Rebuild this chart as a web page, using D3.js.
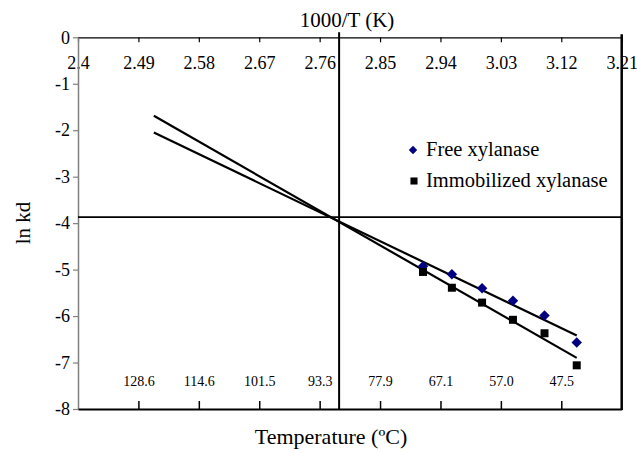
<!DOCTYPE html>
<html>
<head>
<meta charset="utf-8">
<script src="https://cdn.jsdelivr.net/npm/d3@7/dist/d3.min.js"></script>
<style>
  body { margin: 0; background: #fff; }
  svg { display: block; font-family: "Liberation Serif", "Times New Roman", serif; }
</style>
</head>
<body>
<div id="chart"></div>
<script>
// 1000/T values of the measured temperatures
var invT = [2.914, 2.957, 3.002, 3.048, 3.095, 3.143];
var freeLnKd = [-4.93, -5.10, -5.40, -5.67, -5.99, -6.57];
var immobLnKd = [-5.05, -5.39, -5.71, -6.08, -6.37, -7.06];

var freeFit = [[2.513, -2.05], [3.143, -6.42]];
var immobFit = [[2.513, -1.69], [3.143, -6.90]];

var topTicks = [2.4, 2.49, 2.58, 2.67, 2.76, 2.85, 2.94, 3.03, 3.12, 3.21];
var yTicks = [0, -1, -2, -3, -4, -5, -6, -7, -8];
var bottomTicks = [2.49, 2.58, 2.67, 2.76, 2.85, 2.94, 3.03, 3.12];
var bottomLabels = ["128.6", "114.6", "101.5", "93.3", "77.9", "67.1", "57.0", "47.5"];

// crossing point guide lines
var crossX = 2.789;
var crossY = -3.87;

var width = 637, height = 453;

var svg = d3.select("#chart").append("svg")
    .attr("width", width)
    .attr("height", height);

var x = d3.scaleLinear().domain([2.4, 3.21]).range([78, 621.7]);
var y = d3.scaleLinear().domain([0, -8]).range([37.3, 409]);

// top axis (1000/T)
var topAxis = svg.append("g")
    .attr("transform", "translate(0," + y(0) + ")")
    .call(d3.axisBottom(x).tickValues(topTicks).tickSize(5).tickSizeOuter(0)
        .tickPadding(14).tickFormat(function(d) { return String(d); }));
topAxis.selectAll("text").attr("font-size", 18).attr("fill", "#000")
    .attr("font-family", "Liberation Serif");
topAxis.select(".domain").attr("stroke", "#000").attr("stroke-width", 1.2);
topAxis.selectAll(".tick line").attr("stroke", "#000").attr("stroke-width", 1.2);

// left axis (ln kd)
var leftAxis = svg.append("g")
    .attr("transform", "translate(" + x(2.4) + ",0)")
    .call(d3.axisLeft(y).tickValues(yTicks).tickSize(5).tickSizeOuter(0).tickPadding(3)
        .tickFormat(function(d) { return String(d); }));
leftAxis.selectAll("text").attr("font-size", 18).attr("fill", "#000")
    .attr("font-family", "Liberation Serif");
leftAxis.select(".domain").attr("stroke", "#808080").attr("stroke-width", 1.5);
leftAxis.selectAll(".tick line").attr("stroke", "#808080").attr("stroke-width", 1.2);

// bottom line with temperature labels
var bottomAxis = svg.append("g")
    .attr("transform", "translate(0," + y(-8) + ")")
    .call(d3.axisTop(x).tickValues(bottomTicks).tickSize(8).tickSizeOuter(0)
        .tickPadding(15).tickFormat(function(d, i) { return bottomLabels[i]; }));
bottomAxis.selectAll("text").attr("font-size", 14).attr("fill", "#000")
    .attr("font-family", "Liberation Serif");
bottomAxis.select(".domain").attr("stroke", "#000").attr("stroke-width", 2.2);
bottomAxis.selectAll(".tick line").attr("stroke", "#000").attr("stroke-width", 1.5);

// right border
svg.append("line")
    .attr("x1", x(3.21)).attr("x2", x(3.21))
    .attr("y1", y(0) - 3).attr("y2", y(-8) + 1)
    .attr("stroke", "#000").attr("stroke-width", 2.5);

// guide lines through crossing point
svg.append("line")
    .attr("x1", x(crossX)).attr("x2", x(crossX))
    .attr("y1", y(0) - 5).attr("y2", y(-8))
    .attr("stroke", "#000").attr("stroke-width", 2);
svg.append("line")
    .attr("x1", x(2.4)).attr("x2", x(3.21))
    .attr("y1", y(crossY)).attr("y2", y(crossY))
    .attr("stroke", "#000").attr("stroke-width", 1.6);

// fitted lines
var line = d3.line()
    .x(function(d) { return x(d[0]); })
    .y(function(d) { return y(d[1]); });

[freeFit, immobFit].forEach(function(fit) {
    svg.append("path")
        .datum(fit)
        .attr("d", line)
        .attr("fill", "none")
        .attr("stroke", "#000")
        .attr("stroke-width", 2.2);
});

// points
var diamond = d3.symbol().type(d3.symbolDiamond2).size(70);
var square = d3.symbol().type(d3.symbolSquare).size(64);

svg.selectAll(".free")
    .data(invT)
    .enter().append("path")
    .attr("class", "free")
    .attr("d", diamond)
    .attr("transform", function(d, i) { return "translate(" + x(d) + "," + y(freeLnKd[i]) + ")"; })
    .attr("fill", "#000080");

svg.selectAll(".immob")
    .data(invT)
    .enter().append("path")
    .attr("class", "immob")
    .attr("d", square)
    .attr("transform", function(d, i) { return "translate(" + x(d) + "," + y(immobLnKd[i]) + ")"; })
    .attr("fill", "#000");

// legend
var legend = svg.append("g").attr("transform", "translate(413,150)");
legend.append("path")
    .attr("d", d3.symbol().type(d3.symbolDiamond2).size(45))
    .attr("fill", "#000080");
legend.append("text")
    .attr("x", 13).attr("y", 6)
    .attr("font-size", 20.5)
    .text("Free xylanase");
legend.append("path")
    .attr("d", d3.symbol().type(d3.symbolSquare).size(50))
    .attr("transform", "translate(1,31)")
    .attr("fill", "#000");
legend.append("text")
    .attr("x", 13).attr("y", 37)
    .attr("font-size", 20.5)
    .text("Immobilized xylanase");

// titles
svg.append("text")
    .attr("x", 347).attr("y", 27)
    .attr("text-anchor", "middle")
    .attr("font-size", 21)
    .text("1000/T (K)");

svg.append("text")
    .attr("transform", "translate(30,223) rotate(-90)")
    .attr("text-anchor", "middle")
    .attr("font-size", 21)
    .text("ln kd");

svg.append("text")
    .attr("x", 331).attr("y", 444)
    .attr("text-anchor", "middle")
    .attr("font-size", 22)
    .text("Temperature (ºC)");
</script>
</body>
</html>
